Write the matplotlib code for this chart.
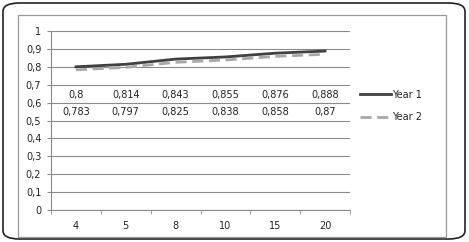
import matplotlib
matplotlib.use("Agg")
import matplotlib.pyplot as plt
from matplotlib.patches import FancyBboxPatch, Rectangle
import numpy as np

# chart data
categories = ["4", "5", "8", "10", "15", "20"]
year1 = [0.8, 0.814, 0.843, 0.855, 0.876, 0.888]
year2 = [0.783, 0.797, 0.825, 0.838, 0.858, 0.87]
series_names = ["Year 1", "Year 2"]

W, H = 469, 242
fig = plt.figure(figsize=(W / 100, H / 100), dpi=100)
plt.rcParams['font.family'] = ['DejaVu Sans']

#outer rounded frame
fig.add_artist(FancyBboxPatch((3 / W, 3 / H), 462 / W, 236 / H,
                              boxstyle="round,pad=0,rounding_size=0.035",
                              transform=fig.transFigure, fill=False,
                              edgecolor="#222222", linewidth=1.2))
#inner chart area border
fig.add_artist(Rectangle((18 / W, 5 / H), 428 / W, 222 / H,
                         transform=fig.transFigure, fill=False,
                         edgecolor="#999999", linewidth=0.9))

ax = fig.add_axes([51 / W, 1 - 210 / H, 299 / W, 179 / H])
x = np.arange(len(categories))

ax.plot(x, year1, color="#404040", linewidth=2.0, label=series_names[0])
ax.plot(x, year2, color="#a8a8a8", linewidth=2.0, linestyle=(0, (4, 2)), label=series_names[1])

#data labels, sitting as two rows inside the plot like in the original
def fmt(v):
    return ("%g" % v).replace(".", ",")

for i in range(len(categories)):
    ax.text(x[i], 0.64, fmt(year1[i]), ha="center", va="center", fontsize=7, color="#222222")
    ax.text(x[i], 0.545, fmt(year2[i]), ha="center", va="center", fontsize=7, color="#222222")

ax.set_xlim(-0.5, len(categories) - 0.5)
ax.set_ylim(0, 1)
ax.set_yticks(np.arange(0, 1.01, 0.1))
ax.set_yticklabels([fmt(round(v, 1)) for v in np.arange(0, 1.01, 0.1)])
ax.set_xticks(x)
ax.set_xticklabels(categories)
ax.set_xticks(np.arange(-0.5, len(categories), 1), minor=True)

ax.grid(axis="y", color="#8a8a8a", linewidth=0.8)
ax.set_axisbelow(True)
for s in ["top", "right"]:
    ax.spines[s].set_visible(False)
for s in ["left", "bottom"]:
    ax.spines[s].set_color("#8a8a8a")
    ax.spines[s].set_linewidth(0.8)

ax.tick_params(axis="y", length=3, color="#8a8a8a", labelsize=7, labelcolor="#222222", pad=4)
ax.tick_params(axis="x", which="major", length=0, labelsize=7, labelcolor="#222222", pad=8)
ax.tick_params(axis="x", which="minor", length=3, color="#8a8a8a")

leg = ax.legend(loc="center left", bbox_to_anchor=(1.005, 0.58), frameon=False,
                fontsize=7, handlelength=3.2, handletextpad=0.05, labelspacing=1.3)
for t in leg.get_texts():
    t.set_color("#222222")

fig.savefig("out.png", dpi=100, facecolor="white")
